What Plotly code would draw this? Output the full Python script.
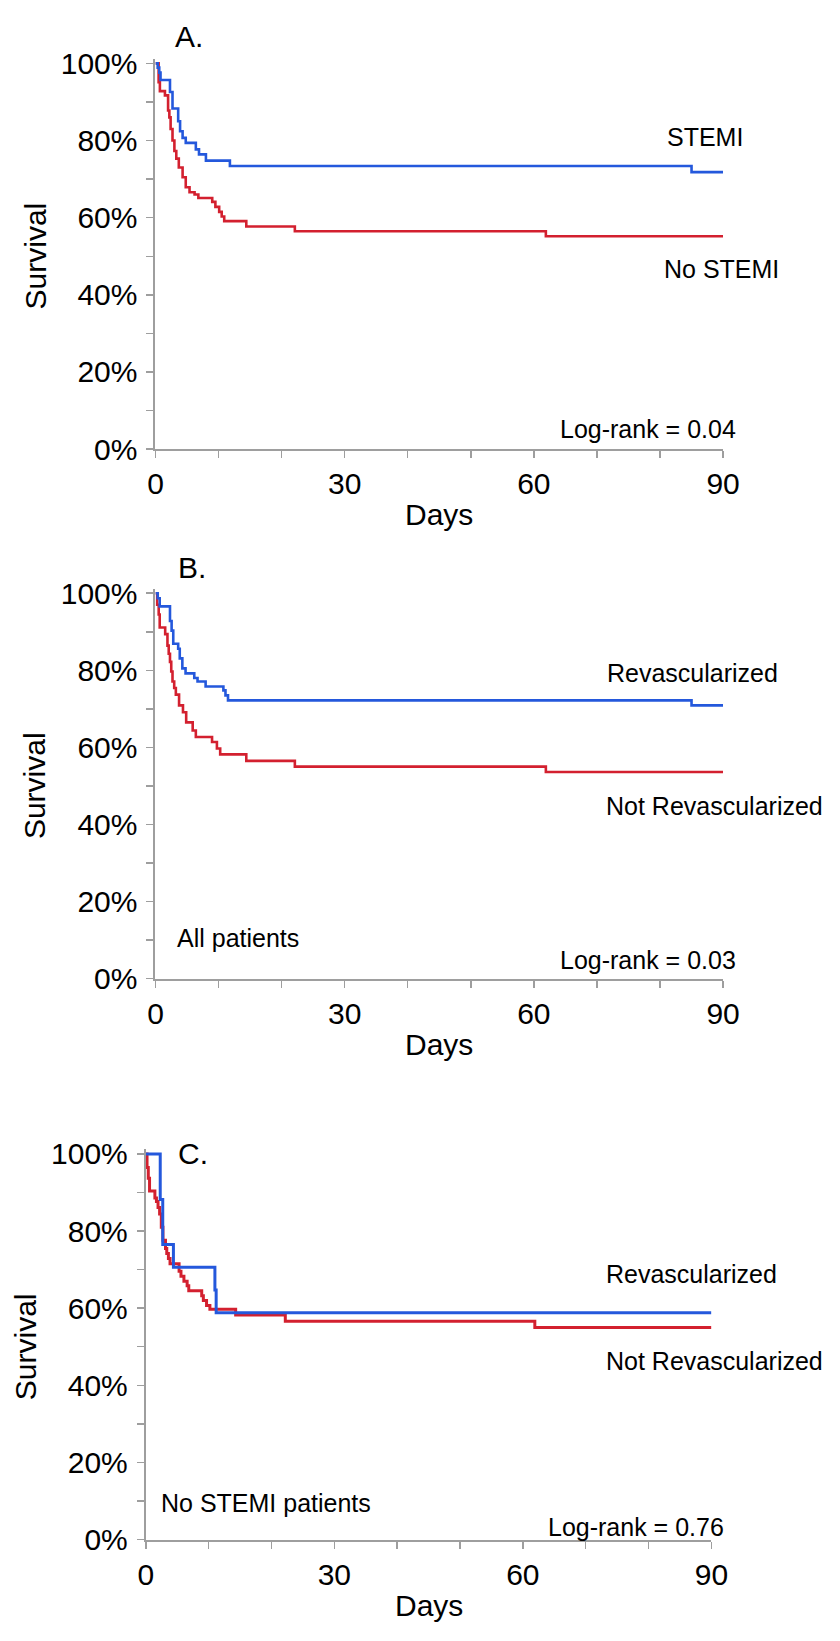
import plotly.graph_objects as go

# ---------------- data ----------------
# Panel A: STEMI vs No STEMI
a_stemi_days = [0, 0.35, 0.6, 0.8, 2.3, 2.7, 3.6, 3.9, 4.3, 4.8, 6.4, 6.9, 8.0, 11.8, 85.0, 90]
a_stemi_surv = [100, 98.9, 97.6, 95.7, 92.6, 88.3, 85.0, 82.4, 80.7, 79.4, 77.7, 76.4, 74.8, 73.4, 71.8, 71.8]
a_nostemi_days = [0, 0.5, 0.7, 1.5, 2.0, 2.2, 2.4, 2.7, 3.0, 3.3, 3.7, 4.3, 4.8, 5.4, 6.2, 6.8,
                  9.0, 9.5, 10.1, 10.5, 10.9, 14.4, 22.1, 61.9, 90]
a_nostemi_surv = [100, 95.1, 92.8, 91.7, 87.8, 86.0, 83.0, 80.0, 77.3, 75.3, 73.0, 70.5, 67.9, 66.6, 66.0, 65.1,
                  64.1, 62.8, 61.5, 60.3, 59.1, 57.7, 56.5, 55.2, 55.2]

# Panel B: all patients, revascularized vs not
b_rev_days = [0, 0.36, 0.67, 2.3, 2.56, 2.82, 3.6, 3.85, 4.26, 4.77, 6.15, 6.67, 7.95, 10.77, 11.1, 11.5, 85.0, 90]
b_rev_surv = [100, 98.7, 96.6, 92.8, 90.3, 86.9, 85.6, 83.1, 80.5, 79.2, 78.0, 77.1, 75.8, 74.8, 73.5, 72.2, 70.9, 70.9]
b_norev_days = [0, 0.26, 0.51, 0.67, 1.54, 1.9, 2.1, 2.3, 2.5, 2.7, 2.97, 3.23, 3.74, 4.36, 4.87, 5.9, 6.4,
                8.97, 9.74, 10.26, 14.4, 22.1, 61.9, 90]
b_norev_surv = [100, 97.0, 94.5, 91.1, 89.4, 86.4, 84.3, 82.2, 79.7, 77.1, 75.4, 73.7, 70.9, 69.1, 66.5, 64.4, 62.7,
                61.4, 59.7, 58.2, 56.5, 55.0, 53.6, 53.6]

# Panel C: No STEMI patients, revascularized vs not
c_rev_days = [0, 2.3, 2.7, 4.4, 11.0, 11.2, 90]
c_rev_surv = [100, 88.2, 76.5, 70.6, 64.7, 58.8, 58.8]
c_norev_days = [0, 0.2, 0.4, 0.6, 1.45, 1.7, 1.95, 2.2, 2.47, 2.73, 3.14, 3.34, 3.6, 3.86, 5.3, 5.6, 6.07,
                6.58, 6.84, 8.9, 9.16, 9.67, 10.2, 14.3, 22.2, 61.9, 90]
c_norev_surv = [100, 96.5, 93.7, 90.4, 88.6, 87.7, 86.1, 84.4, 81.0, 77.6, 75.5, 74.2, 72.9, 71.5, 69.6, 68.3, 67.0,
                65.8, 64.5, 63.2, 62.0, 60.7, 59.7, 58.2, 56.6, 55.0, 55.0]

y_tickvals = [0, 10, 20, 30, 40, 50, 60, 70, 80, 90, 100]
y_ticktext = ["0%", "", "20%", "", "40%", "", "60%", "", "80%", "", "100%"]
x_tickvals = [0, 10, 20, 30, 40, 50, 60, 70, 80, 90]
x_ticktext = ["0", "", "", "30", "", "", "60", "", "", "90"]

panel_letters = ["A.", "B.", "C."]
labels_top = ["STEMI", "Revascularized", "Revascularized"]
labels_bottom = ["No STEMI", "Not Revascularized", "Not Revascularized"]
logrank_texts = ["Log-rank = 0.04", "Log-rank = 0.03", "Log-rank = 0.76"]
subgroup_texts = [None, "All patients", "No STEMI patients"]

# ---------------- layout helpers ----------------
W, H = 840, 1641
BLUE = "#2458DC"
RED = "#D3202F"
GRAY = "#9E9E9E"
FONT = "Arial, Liberation Sans, Helvetica, sans-serif"

def px(x):
    return x / W

def py(y):
    return 1 - y / H

# pixel geometry of each panel: (x_left, x_right, y_at_100, y_at_0)
panels = [
    (152, 737, 52.3, 445.0),
    (152, 737, 591.7, 984.0),
    (142, 725, 1162.5, 1555.0),
]
YMAX = 101.2

fig = go.Figure()
series = [
    (a_stemi_days, a_stemi_surv, a_nostemi_days, a_nostemi_surv),
    (b_rev_days, b_rev_surv, b_norev_days, b_norev_surv),
    (c_rev_days, c_rev_surv, c_norev_days, c_norev_surv),
]
widths = [2.6, 2.6, 3.0]

layout = dict(
    width=W, height=H, margin=dict(l=0, r=0, t=0, b=0),
    paper_bgcolor="white", plot_bgcolor="white", showlegend=False,
    font=dict(family=FONT, color="black"),
)

annotations = []

def ann(text, x, y, xanchor="center", size=25, angle=0):
    annotations.append(dict(text=text, x=px(x), y=py(y), xref="paper", yref="paper",
                            xanchor=xanchor, yanchor="middle", showarrow=False, textangle=angle,
                            font=dict(size=size, family=FONT, color="black")))

for i, (xl, xr, y100, y0) in enumerate(panels):
    n = "" if i == 0 else str(i + 1)
    xa = "x" + n
    ya = "y" + n
    per = (y0 - y100) / 100.0
    ytop = y0 - YMAX * per
    layout["xaxis" + n] = dict(
        domain=[px(xl), px(xr)], range=[0, 90], anchor=ya,
        tickvals=x_tickvals, ticktext=x_ticktext, ticks="outside", ticklen=7, tickwidth=1.5,
        tickcolor=GRAY, showline=True, linecolor=GRAY, linewidth=2, showgrid=False, zeroline=False,
        tickfont=dict(size=30, family=FONT, color="black"), ticklabelstandoff=0,
    )
    layout["yaxis" + n] = dict(
        domain=[py(y0), py(ytop)], range=[0, YMAX], anchor=xa,
        tickvals=y_tickvals, ticktext=y_ticktext, ticks="outside", ticklen=7, tickwidth=1.5,
        tickcolor=GRAY, showline=True, linecolor=GRAY, linewidth=2, showgrid=False, zeroline=False,
        tickfont=dict(size=30, family=FONT, color="black"), ticklabelstandoff=3,
    )
    bd, bs, rd, rs = series[i]
    fig.add_trace(go.Scatter(x=rd, y=rs, mode="lines", line=dict(color=RED, width=widths[i], shape="hv"),
                             xaxis=xa, yaxis=ya, hoverinfo="skip"))
    fig.add_trace(go.Scatter(x=bd, y=bs, mode="lines", line=dict(color=BLUE, width=widths[i], shape="hv"),
                             xaxis=xa, yaxis=ya, hoverinfo="skip"))

    # axis titles
    ann("Survival", xl - 124, (y100 + y0) / 2, size=30, angle=-90)
    ann("Days", (xl + xr) / 2, y0 + 67, size=30)

# panel letters and labels (pixel positions from the reference)
letter_pos = [(170, 25), (173, 565), (173, 1162)]
top_pos = [(718, 127), (706, 673), (704, 1285)]
bot_pos = [(735, 262), (728, 808), (728, 1373)]
lr_pos = [(752, 425), (752, 965), (740, 1542)]
sub_pos = [None, (172, 943), (156, 1518)]

for i in range(3):
    ann(panel_letters[i], letter_pos[i][0], letter_pos[i][1], xanchor="left", size=30)
    ann(labels_top[i], top_pos[i][0], top_pos[i][1])
    ann(labels_bottom[i], bot_pos[i][0], bot_pos[i][1])
    ann(logrank_texts[i], lr_pos[i][0], lr_pos[i][1], xanchor="right")
    if subgroup_texts[i]:
        ann(subgroup_texts[i], sub_pos[i][0], sub_pos[i][1], xanchor="left")

layout["annotations"] = annotations
fig.update_layout(**layout)
fig.write_html(
    "out.html",
    config={"displayModeBar": False, "staticPlot": True},
    post_script="document.body.style.margin='0';document.body.style.padding='0';document.body.style.overflow='hidden';",
)
